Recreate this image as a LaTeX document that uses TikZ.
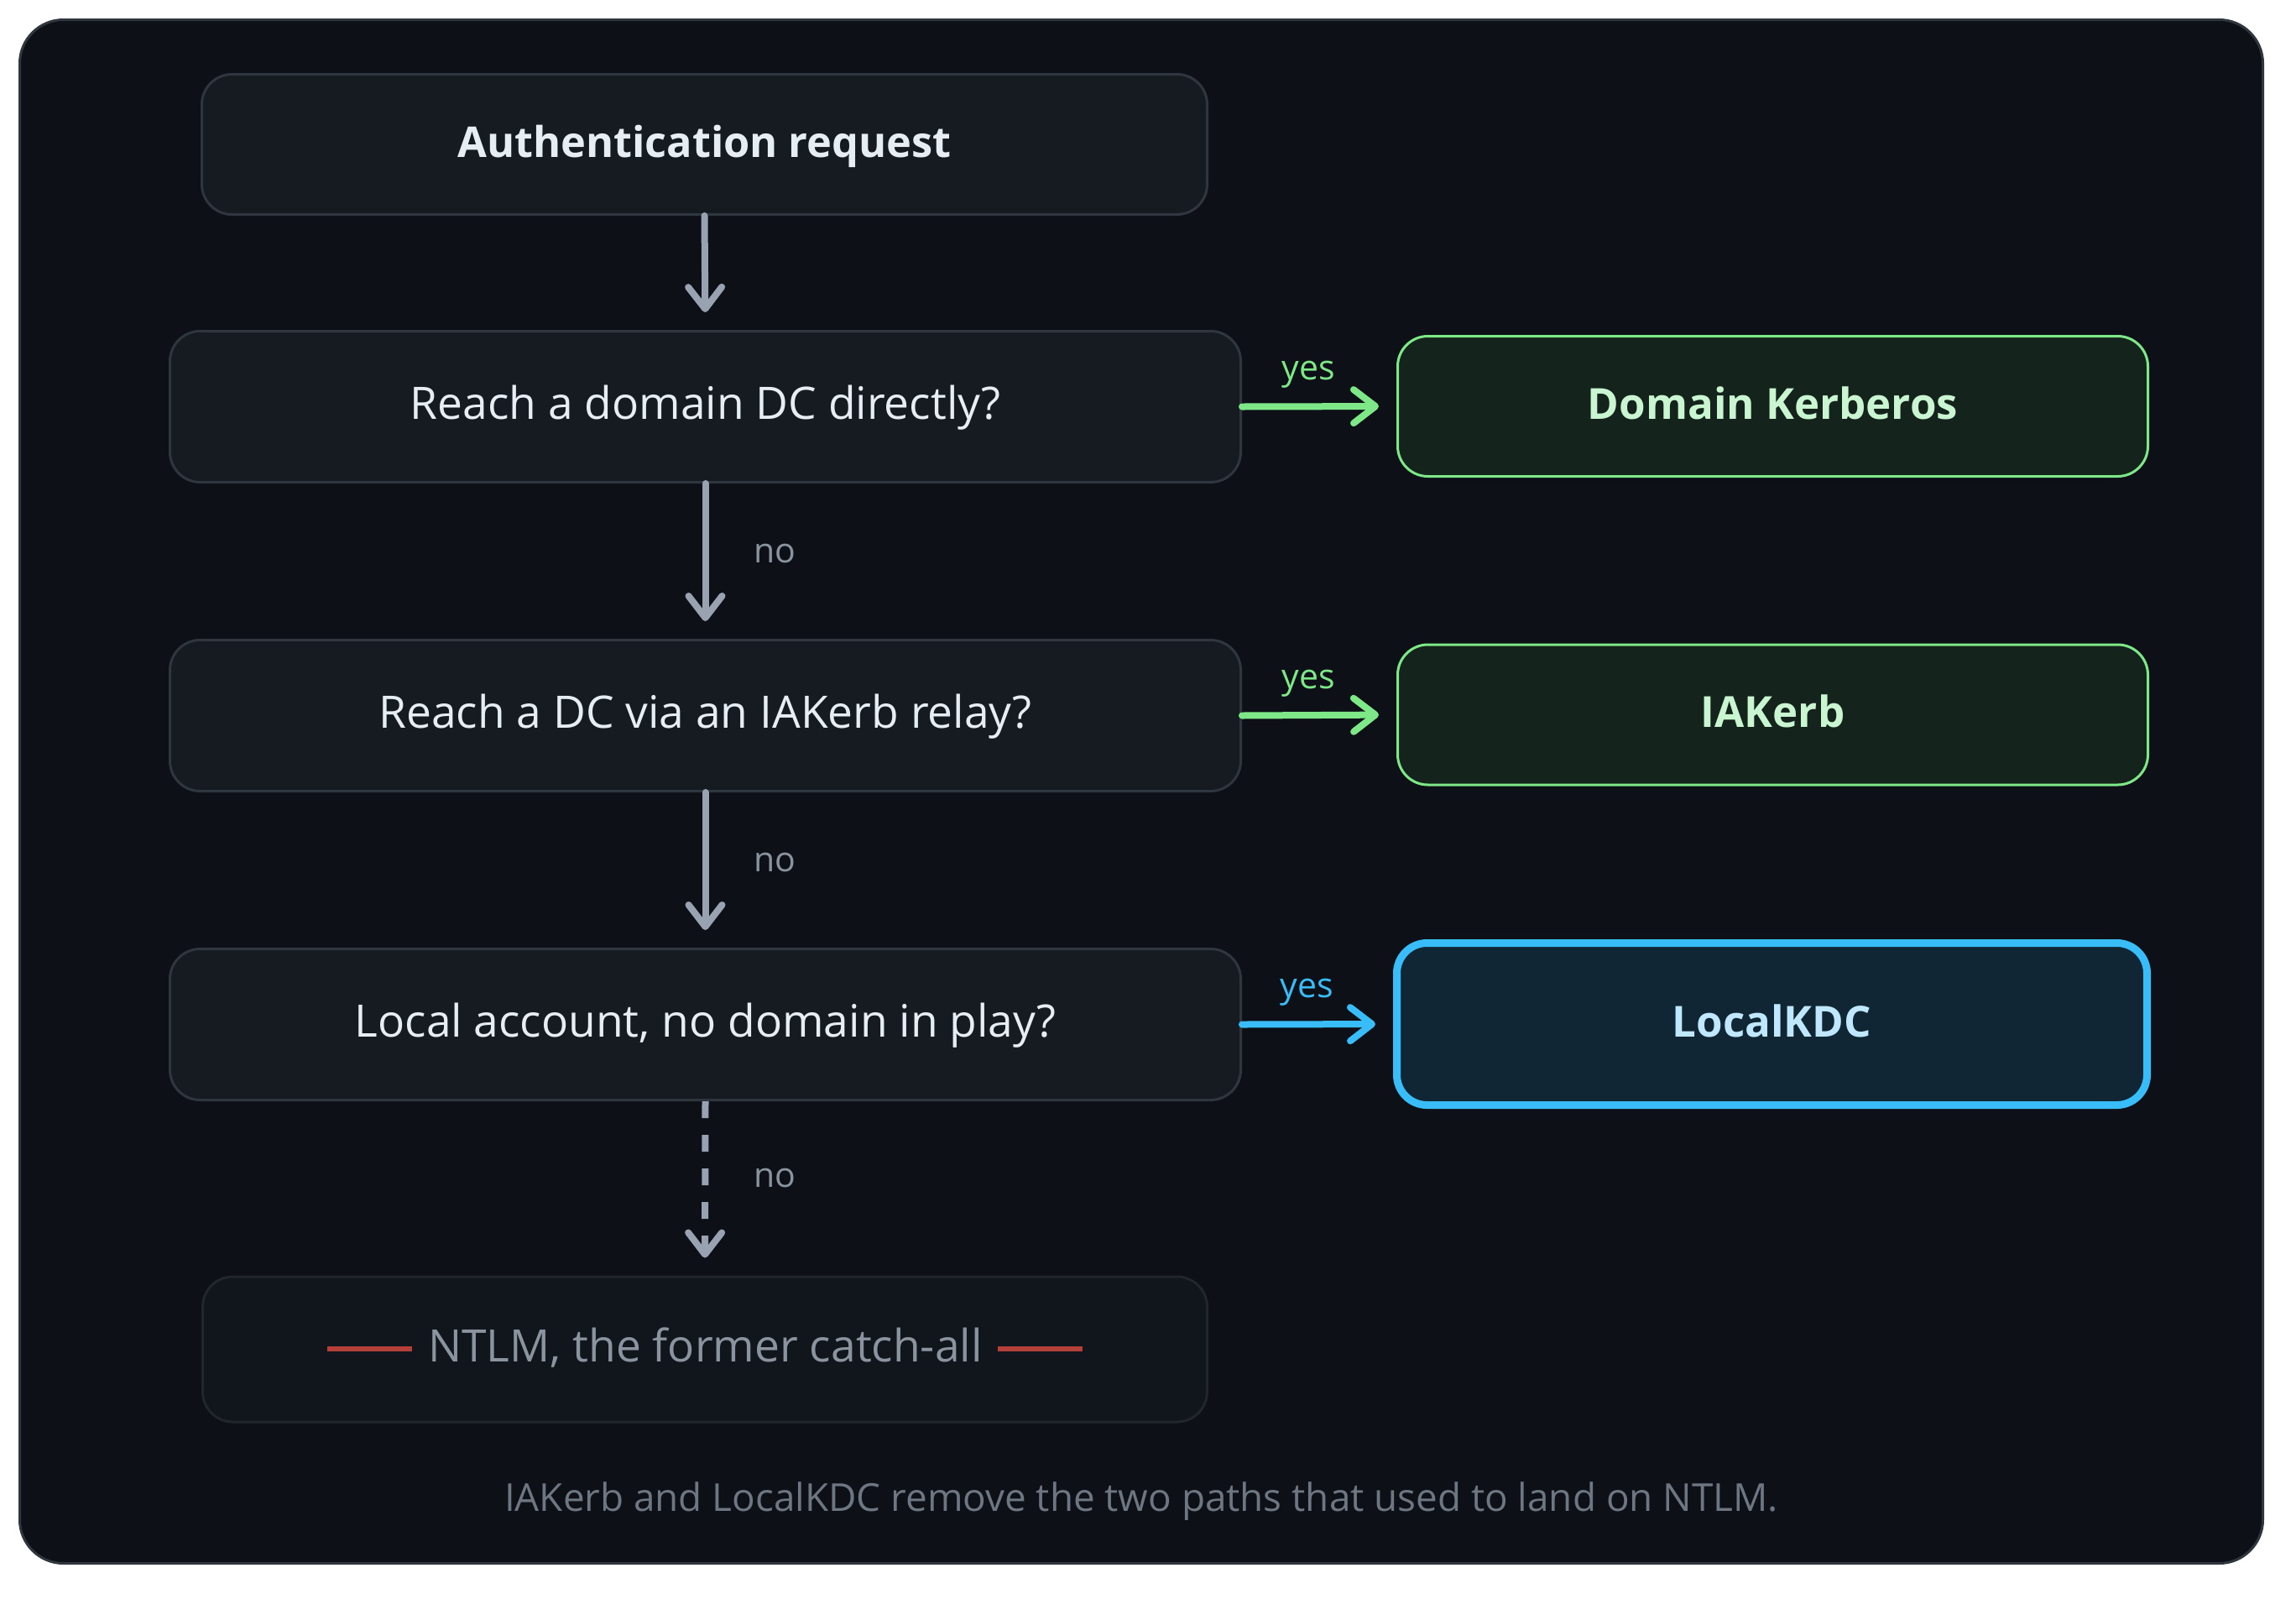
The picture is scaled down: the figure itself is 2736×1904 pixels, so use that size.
\documentclass[tikz,border=0pt]{standalone}
\usepackage{fontspec}
\setmainfont{Open Sans}
\usetikzlibrary{arrows.meta}
\definecolor{framefill}{HTML}{0D1117}
\definecolor{frameborder}{HTML}{30363D}
\definecolor{boxfill}{HTML}{161B22}
\definecolor{boxborder}{HTML}{30363D}
\definecolor{textmain}{HTML}{E6EDF3}
\definecolor{ntlmfill}{HTML}{11151C}
\definecolor{ntlmborder}{HTML}{21262D}
\definecolor{ntlmtext}{HTML}{8B949E}
\definecolor{ntlmred}{HTML}{B5403A}
\definecolor{okgreen}{HTML}{7EE787}
\definecolor{greenfill}{HTML}{14231B}
\definecolor{greentext}{HTML}{CAF5D1}
\definecolor{okblue}{HTML}{38BDF8}
\definecolor{bluefill}{HTML}{102634}
\definecolor{bluetext}{HTML}{BFE8FF}
\definecolor{arrowgray}{HTML}{99A2B1}
\definecolor{lblgray}{HTML}{8B949E}
\definecolor{captiongray}{HTML}{6E7681}
\tikzset{
  basebox/.style={rounded corners=36pt, inner sep=0pt, text height=42pt, text depth=12pt,
    font=\fontsize{53.3}{60}\selectfont},
  stepbox/.style={basebox, draw=boxborder, line width=3pt, fill=boxfill, text=textmain,
    minimum width=1276pt, minimum height=180pt},
  startbox/.style={basebox, draw=boxborder, line width=3pt, fill=boxfill, text=textmain,
    minimum width=1198pt, minimum height=167pt, font=\fontsize{50.5}{60}\selectfont\bfseries},
  endbox/.style={basebox, draw=ntlmborder, line width=3pt, fill=ntlmfill, text=ntlmtext,
    minimum width=1197pt, minimum height=173pt},
  greenbox/.style={basebox, draw=okgreen, line width=3pt, fill=greenfill, text=greentext,
    minimum width=894pt, minimum height=167pt, font=\fontsize{51}{60}\selectfont\bfseries},
  bluebox/.style={basebox, draw=okblue, line width=9pt, fill=bluefill, text=bluetext,
    minimum width=894pt, minimum height=193pt, font=\fontsize{51}{60}\selectfont\bfseries},
  flowarrow/.style={line width=8pt, line cap=round, line join=round,
    -{Straight Barb[length=26pt, width=40pt, line cap=round, line join=round]}},
  grayarrow/.style={flowarrow, draw=arrowgray, shorten >=21pt},
  greenarrow/.style={flowarrow, draw=okgreen, shorten >=21pt},
  bluearrow/.style={flowarrow, draw=okblue, shorten >=21pt},
  nolbl/.style={inner sep=0pt, anchor=west, xshift=54pt, text=lblgray,
    font=\fontsize{41}{48}\selectfont},
  yeslbl/.style={inner sep=0pt, anchor=base, yshift=32pt, font=\fontsize{41}{48}\selectfont},
}
\begin{document}
\begin{tikzpicture}[x=1pt,y=-1pt]
\useasboundingbox (0,0) rectangle (2736,1904);
\fill[white] (0,0) rectangle (2736,1904);
\draw[fill=framefill, draw=frameborder, line width=3pt, rounded corners=52pt]
  (23.5,23.5) rectangle (2696.5,1862.5);

\node[startbox] (auth) at (839.5,172) {Authentication request};
\node[stepbox] (q1) at (840.5,484.5) {Reach a domain DC directly?};
\node[stepbox] (q2) at (840.5,852.5) {Reach a DC via an IAKerb relay?};
\node[stepbox] (q3) at (840.5,1220.5) {Local account, no domain in play?};
\node[endbox] (ntlm) at (840,1607.5) {\textcolor{ntlmred}{\rule[13pt]{101pt}{6pt}}\hspace{19pt}NTLM, the former catch-all\hspace{18pt}\textcolor{ntlmred}{\rule[13pt]{101pt}{6pt}}};

\node[greenbox] (dk) at (2112.5,484) {Domain Kerberos};
\node[greenbox] (iak) at (2112.5,851.5) {IAKerb};
\node[bluebox] (lkdc) at (2111.5,1220) {LocalKDC};

\draw[grayarrow] (auth.south) -- (q1.north);
\draw[grayarrow] (q1.south) -- node[nolbl, pos=0.45] {no} (q2.north);
\draw[grayarrow] (q2.south) -- node[nolbl, pos=0.45] {no} (q3.north);
\draw[grayarrow, dash pattern=on 20pt off 20pt, line cap=butt] (q3.south) -- node[nolbl, pos=0.44] {no} (ntlm.north);

\draw[greenarrow] (q1.east) -- node[yeslbl, pos=0.43, text=okgreen] {yes} (dk.west);
\draw[greenarrow] (q2.east) -- node[yeslbl, pos=0.43, text=okgreen] {yes} (iak.west);
\draw[bluearrow] (q3.east) -- node[yeslbl, pos=0.43, text=okblue] {yes} (lkdc.west);

\node[anchor=base, inner sep=0pt, text=captiongray, font=\fontsize{45.8}{54}\selectfont] (caption) at (1360,1800) {IAKerb and LocalKDC remove the two paths that used to land on NTLM.};
\end{tikzpicture}
\end{document}
